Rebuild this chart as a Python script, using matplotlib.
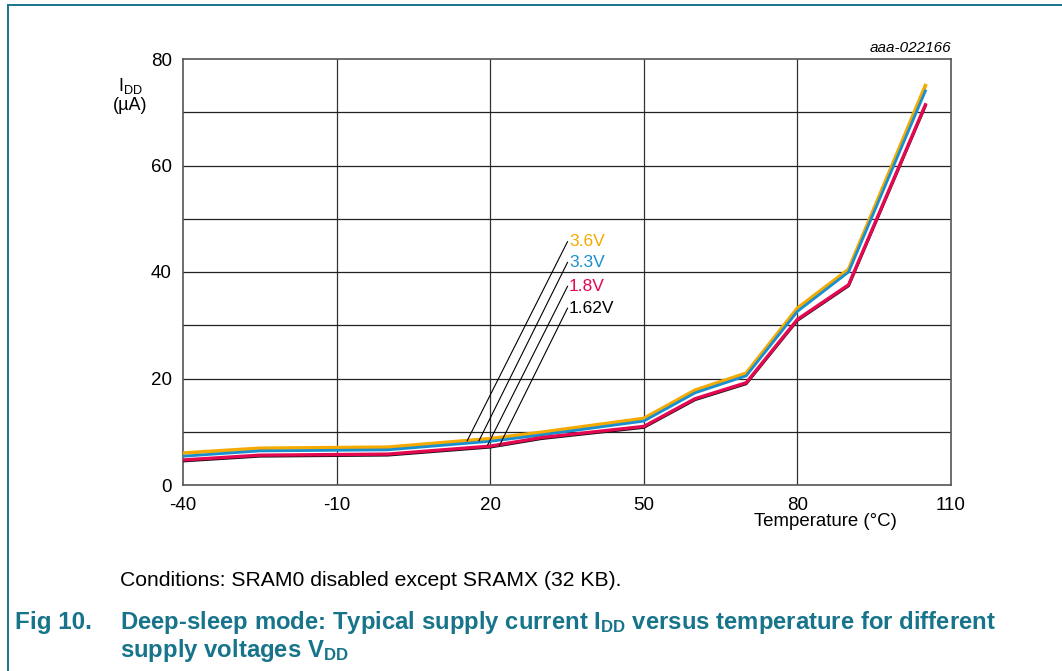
import matplotlib
matplotlib.use("Agg")
import matplotlib.pyplot as plt
from matplotlib.lines import Line2D

plt.rcParams['font.family'] = ['Liberation Sans', 'DejaVu Sans']
plt.rcParams['mathtext.fontset'] = 'custom'
plt.rcParams['mathtext.rm'] = 'Liberation Sans'
plt.rcParams['mathtext.bf'] = 'Liberation Sans:bold'
plt.rcParams['mathtext.it'] = 'Liberation Sans:italic'

# ---- data ----
temperature = [-40, -25, 0, 20, 30, 50, 60, 70, 80, 90, 105]
idd_3v6 = [6.0, 6.9, 7.1, 8.7, 9.9, 12.5, 17.8, 21.0, 33.2, 40.5, 75.0]
idd_3v3 = [5.4, 6.4, 6.6, 8.2, 9.4, 12.0, 17.3, 20.5, 32.6, 40.0, 74.0]
idd_1v8 = [4.7, 5.6, 5.8, 7.3, 8.9, 11.0, 16.2, 19.2, 31.1, 37.6, 71.4]
idd_1v62 = [4.5, 5.4, 5.6, 7.1, 8.7, 10.8, 16.0, 19.0, 30.9, 37.4, 71.2]
series_labels = ['3.6V', '3.3V', '1.8V', '1.62V']
x_ticks = [-40, -10, 20, 50, 80, 110]
y_ticks = [0, 20, 40, 60, 80]
y_grid = [10, 20, 30, 40, 50, 60, 70]
# label leader positions (data coords): label anchor, line end on curve
leader_top = [(35.1, 45.7), (35.1, 41.8), (35.1, 37.3), (35.1, 33.2)]
leader_bot = [(15.5, 8.3), (17.8, 8.3), (19.5, 7.5), (21.8, 7.4)]

col_3v6 = '#f5aa00'
col_3v3 = '#1a8fd0'
col_1v8 = '#e3084f'
col_1v62 = '#111111'
teal = '#17748a'

W, H = 1062, 671
fig = plt.figure(figsize=(W / 100, H / 100), dpi=100)

# frame lines (teal border, top and left)
fig.add_artist(Line2D([8 / W, 8 / W], [0, 1 - 5 / H], transform=fig.transFigure, color=teal, lw=1.4))
fig.add_artist(Line2D([8 / W, 1], [1 - 5 / H, 1 - 5 / H], transform=fig.transFigure, color=teal, lw=1.4))

ax = fig.add_axes([183 / W, 1 - 485 / H, (951 - 183) / W, (485 - 59) / H])
ax.set_xlim(-40, 110)
ax.set_ylim(0, 80)
for xv in x_ticks[1:-1]:
    ax.axvline(xv, color='#333333', lw=0.9, zorder=1)
for yv in y_grid:
    ax.axhline(yv, color='#222222', lw=0.9, zorder=1)
for s in ax.spines.values():
    s.set_color('#555555')
    s.set_linewidth(1.2)

ax.plot(temperature, idd_3v6, color=col_3v6, lw=2.6, zorder=3, solid_joinstyle='miter')
ax.plot(temperature, idd_3v3, color=col_3v3, lw=2.0, zorder=4, solid_joinstyle='miter')
ax.plot(temperature, idd_1v62, color=col_1v62, lw=2.0, zorder=5, solid_joinstyle='miter')
ax.plot(temperature, idd_1v8, color=col_1v8, lw=2.4, zorder=6, solid_joinstyle='miter')

ax.set_xticks(x_ticks)
ax.set_yticks(y_ticks)
ax.set_xticklabels([str(v) for v in x_ticks])
ax.set_yticklabels([str(v) for v in y_ticks])
ax.tick_params(length=0, labelsize=13.5, colors='black')
ax.tick_params(axis='x', pad=9)
ax.tick_params(axis='y', pad=8)

label_cols = [col_3v6, col_3v3, col_1v8, 'black']
for lab, c, (xt, yt), (xb, yb) in zip(series_labels, label_cols, leader_top, leader_bot):
    ax.plot([xb, xt], [yb, yt], color='black', lw=0.8, zorder=7)
    ax.text(xt + 0.3, yt, lab, color=c, fontsize=12.5, ha='left', va='center', zorder=8)

fig.text(130 / W, 1 - 95 / H, r'I$_{\mathregular{DD}}$' + '\n(µA)', fontsize=13, ha='center', va='center', linespacing=1.15)
fig.text(897 / W, 1 - 522 / H, 'Temperature (°C)', fontsize=13.4, ha='right', va='center')
fig.text(951 / W, 1 - 48 / H, 'aaa-022166', fontsize=11, ha='right', va='center', style='italic')

fig.text(120 / W, 1 - 580 / H, 'Conditions: SRAM0 disabled except SRAMX (32 KB).', fontsize=15.2, ha='left', va='center')
fig.text(15 / W, 1 - 622 / H, 'Fig 10.', fontsize=17.5, ha='left', va='center', color=teal, weight='bold')
fig.text(120 / W, 1 - 622 / H,
         r'Deep-sleep mode: Typical supply current I$_{\mathbf{DD}}$ versus temperature for different',
         fontsize=17.2, ha='left', va='center', color=teal, weight='bold')
fig.text(120 / W, 1 - 650 / H, r'supply voltages V$_{\mathbf{DD}}$',
         fontsize=17.2, ha='left', va='center', color=teal, weight='bold')

fig.savefig('out.png', dpi=100)
